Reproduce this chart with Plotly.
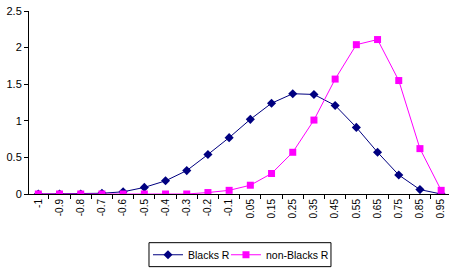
import plotly.graph_objects as go

categories = ["-1", "-0.9", "-0.8", "-0.7", "-0.6", "-0.5", "-0.4", "-0.3", "-0.2", "-0.1",
              "0.05", "0.15", "0.25", "0.35", "0.45", "0.55", "0.65", "0.75", "0.85", "0.95"]
blacks_r = [0.0, 0.0, 0.0, 0.01, 0.03, 0.09, 0.18, 0.32, 0.54, 0.77,
            1.02, 1.24, 1.37, 1.36, 1.21, 0.91, 0.57, 0.26, 0.06, 0.0]
non_blacks_r = [0.0, 0.0, 0.0, 0.0, 0.0, 0.0, 0.0, 0.0, 0.02, 0.05,
                0.12, 0.28, 0.57, 1.01, 1.57, 2.04, 2.11, 1.55, 0.62, 0.05]
y_ticks = [0, 0.5, 1, 1.5, 2, 2.5]
y_tick_labels = ["0", "0.5", "1", "1.5", "2", "2.5"]

fig = go.Figure()
fig.add_trace(go.Scatter(
    x=categories, y=blacks_r, name="Blacks R", mode="lines+markers",
    line=dict(color="#000080", width=1),
    marker=dict(symbol="diamond", size=7, color="#000080"),
    legend="legend",
))
fig.add_trace(go.Scatter(
    x=categories, y=non_blacks_r, name="non-Blacks R", mode="lines+markers",
    line=dict(color="#FF00FF", width=1),
    marker=dict(symbol="square", size=7, color="#FF00FF"),
    legend="legend2",
))

legend_common = dict(
    orientation="h", yanchor="middle", y=-0.332, xanchor="left",
    borderwidth=0, bgcolor="rgba(0,0,0,0)", font=dict(size=10.5),
    itemwidth=30,
)

fig.update_layout(
    width=449, height=272,
    margin=dict(l=29, r=0, t=11, b=78, autoexpand=False),
    paper_bgcolor="white", plot_bgcolor="white",
    font=dict(family="Arial, Liberation Sans, sans-serif", color="black"),
    showlegend=True,
    legend=dict(x=0.2833, **legend_common),
    legend2=dict(x=0.4690, **legend_common),
    shapes=[dict(
        type="rect", xref="paper", yref="paper",
        x0=0.2857, x1=0.7190, y0=-0.397, y1=-0.266,
        line=dict(color="black", width=1), fillcolor="rgba(0,0,0,0)",
    )],
)
fig.update_xaxes(
    type="category", range=[-0.44, 19.37], automargin=False,
    showline=True, linecolor="black", linewidth=1,
    ticks="outside", ticklen=4, tickcolor="black", tickson="boundaries",
    tickangle=-90, tickfont=dict(size=10),
    showgrid=False, zeroline=False,
)
fig.update_yaxes(
    range=[0, 2.5], tickvals=y_ticks, ticktext=y_tick_labels, automargin=False,
    showline=True, linecolor="black", linewidth=1,
    ticks="outside", ticklen=4, tickcolor="black",
    tickfont=dict(size=11), showgrid=False, zeroline=False,
)

fig.write_html("out.html", config={"displayModeBar": False},
               post_script="document.body.style.margin='0';")
